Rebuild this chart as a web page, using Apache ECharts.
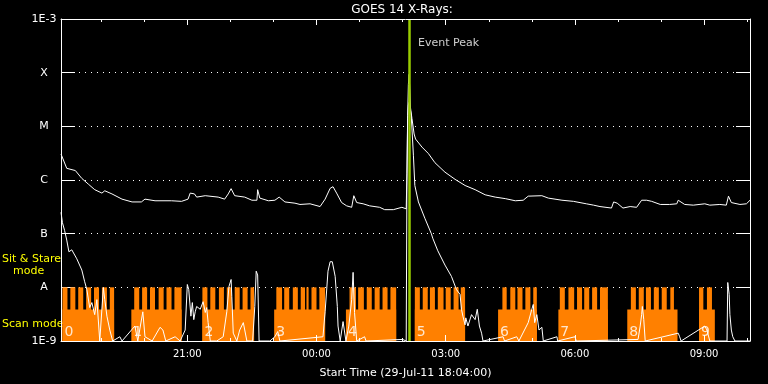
<!DOCTYPE html>
<html><head><meta charset="utf-8">
<script src="https://cdn.jsdelivr.net/npm/echarts@6/dist/echarts.min.js"></script>
<style>html,body{margin:0;padding:0;background:#000}#c{width:768px;height:384px}</style>
</head><body><div id="c"></div>
<script>
const chartTitle = 'GOES 14 X-Rays:';
const xAxisTitle = 'Start Time (29-Jul-11 18:04:00)';
const startTime = '18:04';
const endTime = '10:04';
const eventPeakTime = '02:09';
const eventLabel = 'Event Peak';
const xTickLabels = ['21:00', '00:00', '03:00', '06:00', '09:00'];
const xMinorTicks = ['19:00', '20:00', '22:00', '23:00', '01:00', '02:00', '04:00', '05:00', '07:00', '08:00', '10:00'];
const yTickValues = [1e-9, 1e-8, 1e-7, 1e-6, 1e-5, 1e-4, 1e-3];
const yTickLabels = ['1E-9', 'A', 'B', 'C', 'M', 'X', '1E-3'];
const modeLabels = ['Sit & Stare', 'mode', 'Scan mode'];
const scanLevel = 3.86e-9;
const stareLevel = 1e-8;

// GOES long channel (1-8 A)
const longChannel = [
 ['18:04',3.05e-6],['18:12',1.65e-6],['18:14',1.55e-6],['18:24',1.5e-6],['18:33',1.07e-6],['18:42',8.4e-7],
 ['18:51',6.6e-7],['19:01',5.7e-7],['19:05',6.3e-7],['19:15',5.5e-7],['19:29',4.4e-7],['19:43',3.9e-7],
 ['19:56',3.9e-7],['20:01',4.4e-7],['20:15',4.1e-7],['20:38',4.1e-7],['20:52',4.0e-7],['21:01',4.4e-7],
 ['21:04',5.7e-7],['21:10',5.5e-7],['21:13',4.8e-7],['21:25',5.1e-7],['21:43',4.8e-7],['21:52',4.4e-7],
 ['21:57',5.5e-7],['22:01',6.9e-7],['22:06',5.1e-7],['22:20',4.8e-7],['22:30',4.2e-7],['22:37',4.2e-7],
 ['22:38',6.6e-7],['22:41',4.6e-7],['22:53',4.1e-7],['23:02',4.2e-7],['23:08',4.8e-7],['23:16',3.9e-7],
 ['23:30',3.7e-7],['23:37',3.5e-7],['23:51',3.6e-7],['00:05',3.2e-7],['00:12',4.4e-7],['00:19',7.0e-7],
 ['00:23',7.5e-7],['00:28',5.7e-7],['00:35',3.8e-7],['00:42',3.3e-7],['00:49',3.1e-7],['00:52',5.1e-7],
 ['00:56',3.8e-7],['01:05',3.6e-7],['01:14',3.3e-7],['01:28',3.1e-7],['01:35',2.8e-7],['01:47',2.8e-7],
 ['01:59',3.1e-7],['02:05',2.9e-7],['02:06',1.3e-6],['02:07',1.6e-5],['02:08',6.0e-5],['02:09',9.3e-5],
 ['02:10',5.0e-5],['02:11',2.2e-5],['02:13',1.4e-5],['02:16',7.2e-6],['02:18',5.8e-6],['02:27',4.1e-6],
 ['02:36',3.1e-6],['02:45',2.1e-6],['02:59',1.4e-6],['03:13',1.03e-6],['03:27',7.9e-7],['03:41',6.6e-7],
 ['03:55',5.3e-7],['04:09',4.8e-7],['04:23',4.5e-7],['04:37',4.1e-7],['04:48',4.2e-7],['04:55',5.0e-7],
 ['05:14',5.1e-7],['05:16',5.4e-7],['05:23',4.6e-7],['05:42',4.2e-7],['05:58',4.0e-7],['06:16',3.6e-7],
 ['06:26',3.4e-7],['06:35',3.2e-7],['06:51',3.0e-7],['06:54',3.9e-7],['06:59',3.7e-7],['07:07',3.0e-7],
 ['07:17',3.2e-7],['07:26',3.1e-7],['07:33',4.2e-7],['07:40',4.2e-7],['07:47',4.0e-7],['07:59',3.5e-7],
 ['08:12',3.5e-7],['08:22',3.6e-7],['08:24',4.2e-7],['08:33',3.5e-7],['08:45',3.4e-7],['09:01',3.6e-7],
 ['09:08',3.4e-7],['09:22',3.5e-7],['09:31',3.4e-7],['09:34',5.0e-7],['09:38',3.8e-7],['09:50',3.5e-7],
 ['09:59',3.6e-7],['10:04',4.2e-7]
];

// GOES short channel (0.5-4 A)
const shortChannel = [
 ['18:04',2.5e-7],['18:06',1.6e-7],['18:09',1.15e-7],['18:12',7.6e-8],['18:15',4.6e-8],['18:19',5.0e-8],
 ['18:21',4.9e-8],['18:26',3.4e-8],['18:33',2.1e-8],['18:37',1.27e-8],['18:40',9.1e-9],['18:44',4.2e-9],
 ['18:47',5.2e-9],['18:51',3.1e-9],['18:54',5.9e-9],['18:58',1e-9],['19:03',9.9e-9],['19:05',5.9e-9],
 ['19:08',2.9e-9],['19:12',1.6e-9],['19:16',1e-9],['19:26',1.2e-9],['19:29',1e-9],['19:47',1.9e-9],
 ['19:51',1e-9],['19:58',3.5e-9],['20:01',1.2e-9],['20:11',1e-9],['20:22',1.8e-9],['20:26',1.6e-9],
 ['20:30',1e-9],['20:43',1.2e-9],['20:50',1e-9],['20:57',1.6e-9],['21:00',1.13e-8],['21:02',9.1e-9],
 ['21:05',2.9e-9],['21:07',5.2e-9],['21:09',2.5e-9],['21:11',3.5e-9],['21:13',4.4e-9],['21:18',3.9e-9],
 ['21:22',5.4e-9],['21:25',3.4e-9],['21:27',4.2e-9],['21:29',2.2e-9],['21:32',1e-9],['21:41',1e-9],
 ['21:50',1.2e-9],['21:55',3.5e-9],['21:58',1.03e-8],['22:01',1.4e-8],['22:02',6.7e-9],['22:04',1.4e-9],
 ['22:09',1e-9],['22:13',1.6e-9],['22:18',2.2e-9],['22:23',1e-9],['22:31',1e-9],['22:34',4.4e-9],
 ['22:36',2.0e-8],['22:38',1.7e-8],['22:40',1e-9],['22:55',1e-9],['23:02',1.2e-9],['23:06',1.5e-9],
 ['23:09',1e-9],['00:09',1.2e-9],['00:12',3.5e-9],['00:16',2.0e-8],['00:19',3.0e-8],['00:22',3.0e-8],
 ['00:24',2.9e-8],['00:26',1.6e-8],['00:29',4.4e-9],['00:30',1.9e-9],['00:33',1e-9],['00:37',2.3e-9],
 ['00:41',1e-9],['00:45',1.9e-9],['00:49',5.9e-9],['00:51',1.9e-8],['00:53',3.4e-9],['00:56',1e-9],
 ['01:07',1.2e-9],['01:09',1e-9],['02:00',1.07e-9],['02:05',1e-9],['02:06',1.0e-6],['02:07',1.4e-5],
 ['02:08',2.5e-5],['02:09',2.8e-5],['02:10',2.4e-5],['02:12',1.6e-5],['02:15',2.9e-6],['02:17',7.9e-7],
 ['02:22',3.9e-7],['02:31',1.93e-7],['02:40',1.0e-7],['02:42',8.2e-8],['02:49',4.8e-8],['02:59',2.6e-8],
 ['03:08',1.6e-8],['03:15',9.1e-9],['03:20',7.4e-9],['03:22',3.9e-9],['03:24',2.9e-9],['03:27',2.0e-9],
 ['03:28',2.7e-9],['03:31',1.9e-9],['03:36',3.1e-9],['03:41',2.5e-9],['03:44',3.9e-9],['03:47',1.9e-9],
 ['03:50',1.4e-9],['03:52',1e-9],['04:20',1.2e-9],['04:22',1e-9],['04:39',1.2e-9],['04:42',1e-9],
 ['04:55',2.2e-9],['05:00',3.9e-9],['05:02',4.8e-9],['05:04',2.2e-9],['05:07',3.1e-9],['05:10',1.6e-9],
 ['05:14',1.8e-9],['05:16',1e-9],['05:35',1.2e-9],['05:36',1e-9],['06:00',1.2e-9],['06:02',1e-9],
 ['07:28',1.07e-9],['07:31',1.9e-9],['07:33',3.1e-9],['07:34',4.4e-9],['07:36',2.5e-9],['07:38',1e-9],
 ['08:24',1.4e-9],['08:26',1.2e-9],['08:28',1e-9],['09:01',1.9e-9],['09:04',1.6e-9],['09:08',1e-9],
 ['09:32',1e-9],['09:33',1.23e-8],['09:35',7.4e-9],['09:36',3.1e-9],['09:38',1.6e-9],['09:40',1.2e-9],
 ['09:43',1e-9],['10:04',1e-9]
];

// observing-mode blocks (scan mode base) and their numbers
const blockNames = ['0','1','2','3','4','5','6','7','8','9'];
const blockStart = ['18:06','19:42','21:21','23:01','00:41','02:17','04:13','05:37','07:13','08:53'];
const blockEnd   = ['19:18','20:52','22:33','00:12','01:51','03:27','05:07','06:46','08:23','09:15'];
// sit & stare intervals
const stareIntervals = [
 ['18:06','18:13'],['18:17','18:24'],['18:28','18:35'],['18:39','18:46'],['18:50','18:57'],['19:01','19:08'],['19:12','19:18'],
 ['19:46','19:53'],['19:57','20:04'],['20:08','20:15'],['20:20','20:27'],['20:31','20:38'],['20:42','20:52'],
 ['21:21','21:28'],['21:32','21:39'],['21:44','21:51'],['21:55','22:02'],['22:06','22:13'],['22:17','22:24'],['22:28','22:33'],
 ['23:04','23:12'],['23:15','23:22'],['23:27','23:34'],['23:38','23:44'],['23:46','23:49'],['23:53','00:00'],['00:04','00:12'],
 ['00:46','00:55'],['00:58','01:06'],['01:10','01:17'],['01:21','01:28'],['01:32','01:39'],['01:43','01:51'],
 ['02:17','02:24'],['02:28','02:35'],['02:38','02:45'],['02:49','02:57'],['03:00','03:07'],['03:11','03:18'],['03:21','03:27'],
 ['04:19','04:25'],['04:30','04:37'],['04:40','04:47'],['04:51','04:58'],['05:02','05:07'],
 ['05:39','05:46'],['05:51','05:59'],['06:03','06:10'],['06:13','06:20'],['06:24','06:31'],['06:35','06:46'],
 ['07:18','07:25'],['07:29','07:36'],['07:39','07:46'],['07:50','07:57'],['08:01','08:08'],['08:13','08:18'],
 ['08:53','08:59'],['09:04','09:11']
];

const FONT = 'DejaVu Sans';
const ORANGE = '#ff8000';
const GREEN = '#99cc00';
const toMin = s => { const p = s.split(':').map(Number); return (p[0] < 18 ? p[0] + 24 : p[0]) * 60 + p[1]; };
const fmtClock = v => { const m = ((Math.round(v) % 1440) + 1440) % 1440; return String(Math.floor(m / 60)).padStart(2, '0') + ':' + String(m % 60).padStart(2, '0'); };
const Y_MIN = yTickValues[0], Y_MAX = yTickValues[yTickValues.length - 1];
const X_MIN = toMin(startTime), X_MAX = toMin(endTime);
const majorVals = xTickLabels.map(toMin), minorVals = xMinorTicks.map(toMin);

const rectData = [];
blockStart.forEach((s, i) => rectData.push([toMin(s), toMin(blockEnd[i]), scanLevel]));
stareIntervals.forEach(p => rectData.push([toMin(p[0]), toMin(p[1]), stareLevel]));

const chart = echarts.init(document.getElementById('c'), null, { renderer: 'canvas' });
const white = '#ffffff';
const xBase = { type: 'value', min: X_MIN, max: X_MAX, splitLine: { show: false }, z: 10 };
const tick = (len, vals) => ({ show: true, inside: true, length: len, customValues: vals, lineStyle: { color: white, width: 1 } });

chart.setOption({
  backgroundColor: '#000',
  animation: false,
  grid: { left: 61, top: 19, right: 18, bottom: 43, containLabel: false },
  graphic: [
    { type: 'text', x: 402, y: 10, style: { text: chartTitle, fill: white, fontSize: 12, fontFamily: FONT, align: 'center', verticalAlign: 'middle' } },
    { type: 'text', x: 2, y: 259, style: { text: modeLabels[0], fill: '#ffff00', fontSize: 11, fontFamily: FONT, align: 'left', verticalAlign: 'middle' } },
    { type: 'text', x: 13, y: 271, style: { text: modeLabels[1], fill: '#ffff00', fontSize: 11, fontFamily: FONT, align: 'left', verticalAlign: 'middle' } },
    { type: 'text', x: 2, y: 324, style: { text: modeLabels[2], fill: '#ffff00', fontSize: 11, fontFamily: FONT, align: 'left', verticalAlign: 'middle' } }
  ],
  xAxis: [
    Object.assign({}, xBase, { position: 'bottom', axisLine: { show: true, lineStyle: { color: white, width: 1 } },
      axisTick: tick(6, majorVals),
      axisLabel: { show: true, customValues: majorVals, formatter: fmtClock, color: white, fontSize: 10, fontFamily: FONT, margin: 8 },
      name: xAxisTitle, nameLocation: 'middle', nameGap: 27, nameTextStyle: { color: white, fontSize: 11, fontFamily: FONT } }),
    Object.assign({}, xBase, { position: 'bottom', axisLine: { show: false }, axisTick: tick(3, minorVals), axisLabel: { show: false } }),
    Object.assign({}, xBase, { position: 'top', axisLine: { show: true, lineStyle: { color: white, width: 1 } }, axisTick: tick(6, majorVals), axisLabel: { show: false } }),
    Object.assign({}, xBase, { position: 'top', axisLine: { show: false }, axisTick: tick(3, minorVals), axisLabel: { show: false } })
  ],
  yAxis: [
    { type: 'log', logBase: 10, min: Y_MIN, max: Y_MAX, position: 'left',
      axisLine: { show: true, lineStyle: { color: white, width: 1 } },
      axisTick: { show: true, inside: true, length: 14, lineStyle: { color: white, width: 1 } },
      axisLabel: { color: white, fontSize: 11, fontFamily: FONT, align: 'center', margin: 17,
        formatter: v => { const e = Math.round(Math.log10(v)); const i = yTickValues.findIndex(t => Math.round(Math.log10(t)) === e); return i >= 0 ? yTickLabels[i] : ''; } },
      splitLine: { show: true, lineStyle: { color: white, width: 1, type: [1, 5] } }
    },
    { type: 'log', logBase: 10, min: Y_MIN, max: Y_MAX, position: 'right',
      axisLine: { show: true, lineStyle: { color: white, width: 1 } },
      axisTick: { show: true, inside: true, length: 14, lineStyle: { color: white, width: 1 } },
      axisLabel: { show: false }, splitLine: { show: false }
    }
  ],
  series: [
    { type: 'custom', xAxisIndex: 0, yAxisIndex: 0, z: 2, silent: true,
      encode: { x: [0, 1], y: 2 },
      data: rectData,
      renderItem: (params, api) => {
        const p0 = api.coord([api.value(0), api.value(2)]);
        const p1 = api.coord([api.value(1), Y_MIN]);
        return { type: 'rect', shape: { x: p0[0], y: p0[1], width: p1[0] - p0[0], height: p1[1] - p0[1] }, style: { fill: ORANGE } };
      }
    },
    { type: 'scatter', xAxisIndex: 0, yAxisIndex: 0, z: 3, silent: true, symbolSize: 0,
      data: blockNames.map((n, i) => [toMin(blockStart[i]), 1.45e-9, n]),
      label: { show: true, position: 'right', distance: 2, formatter: p => p.data[2], color: white, fontSize: 14, fontFamily: FONT }
    },
    { type: 'line', xAxisIndex: 0, yAxisIndex: 0, z: 4, showSymbol: false, symbol: 'none', silent: true,
      data: shortChannel.map(d => [toMin(d[0]), d[1]]), lineStyle: { color: white, width: 1 } },
    { type: 'line', xAxisIndex: 0, yAxisIndex: 0, z: 4, showSymbol: false, symbol: 'none', silent: true,
      data: longChannel.map(d => [toMin(d[0]), d[1]]), lineStyle: { color: white, width: 1 } },
    { type: 'scatter', xAxisIndex: 0, yAxisIndex: 0, z: 6, silent: true, symbolSize: 0,
      data: [[toMin(eventPeakTime), 3.6e-4, eventLabel]],
      label: { show: true, position: 'right', distance: 9, formatter: p => p.data[2], color: white, fontSize: 11, fontFamily: FONT },
      markLine: { silent: true, symbol: 'none', z: 6, label: { show: false },
        lineStyle: { color: GREEN, width: 2.5, type: 'solid' },
        data: [{ xAxis: toMin(eventPeakTime) }] }
    }
  ]
});
</script></body></html>
